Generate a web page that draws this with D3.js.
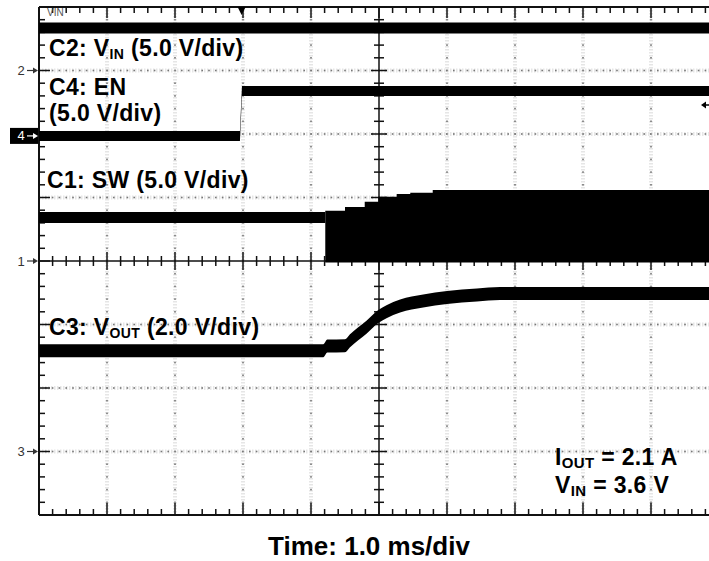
<!DOCTYPE html>
<html><head><meta charset="utf-8">
<script src="https://cdn.jsdelivr.net/npm/d3@7"></script>
<style>html,body{margin:0;padding:0;background:#fff;} svg{display:block;}</style>
</head><body>
<svg id="c" width="709" height="561"></svg>
<script>
// ---- Data (time in ms, 1.0 ms/div; values in volts) ----
const channelNames = ["C1", "C2", "C3", "C4"];
const channelOffsetDiv = [0, 3, -3, 1.97];      // ground marker position (div)
const channelVoltsPerDiv = [5, 5, 2, 5];
const channelMarkers = ["1", "2", "3", "4"];

const vinTime = [0, 10];
const vinVolts = [3.35, 3.35];

const enTime = [0, 2.955, 2.985, 10];
const enVolts = [0, 0, 3.53, 3.53];

const swIdleTime = [0, 4.21];
const swIdleVolts = [3.43, 3.43];

const swBurstTime = [4.21, 4.5, 4.79, 4.99, 5.26, 5.46, 5.79, 10];
const swBurstHigh = [3.96, 4.25, 4.67, 5.06, 5.28, 5.38, 5.59, 5.59];
const swBurstLowVolts = -0.12;

const voutTime = [0, 4.18, 4.24, 4.5, 4.57, 4.82, 4.99, 5.11, 5.31, 5.65, 6.0, 6.44, 6.78, 10];
const voutVolts = [3.17, 3.17, 3.32, 3.33, 3.48, 3.92, 4.25, 4.40, 4.58, 4.74, 4.85, 4.93, 4.98, 4.98];

const triggerTime = 2.98;
const timeLabel = "Time: 1.0 ms/div";

// ---- Scales ----
const svg = d3.select("#c");
const x = d3.scaleLinear().domain([0, 10]).range([39, 719]);
const y = d3.scaleLinear().domain([-4, 4]).range([515, 7]);
const yc = (ch, v) => y(channelOffsetDiv[ch] + v / channelVoltsPerDiv[ch]);
const FONT = "'Liberation Sans', Arial, Helvetica, sans-serif";

svg.append("rect").attr("width", 709).attr("height", 561).attr("fill", "#fff");

// ---- Grid (dotted) ----
const grid = svg.append("g");
const vLines = d3.range(1, 11).filter(d => d !== 5);
const hLines = d3.range(-3, 4).filter(d => d !== 0);
const minorY = d3.range(-4, 4.0001, 0.2);
const fineX = d3.range(0, 10.0001, 0.1);

vLines.forEach(t => {
  grid.append("line").attr("x1", x(t)).attr("x2", x(t)).attr("y1", y(4)).attr("y2", y(-4))
    .attr("stroke", "#e6e6e6").attr("stroke-width", 4).attr("stroke-dasharray", "1.5,1.5");
  grid.selectAll(null).data(minorY).enter().append("rect")
    .attr("x", x(t) - 0.8).attr("y", d => y(d) - 0.8).attr("width", 1.6).attr("height", 1.6)
    .attr("fill", "#777");
});
hLines.forEach(d => {
  grid.append("line").attr("x1", x(0)).attr("x2", x(10)).attr("y1", y(d)).attr("y2", y(d))
    .attr("stroke", "#e6e6e6").attr("stroke-width", 4).attr("stroke-dasharray", "1.5,1.5");
  grid.selectAll(null).data(fineX).enter().append("rect")
    .attr("x", t => x(t) - 0.8).attr("y", y(d) - 0.8).attr("width", 1.6).attr("height", 1.6)
    .attr("fill", "#777");
});

// ---- Borders and center axes with ticks ----
const ax = svg.append("g").attr("stroke", "#111").attr("stroke-width", 1.5);
const minorX = d3.range(0, 10.0001, 0.2);
const isMajor = v => Math.abs(v - Math.round(v)) < 1e-6;

// top border
ax.append("line").attr("x1", x(0)).attr("x2", x(10)).attr("y1", y(4)).attr("y2", y(4)).attr("stroke-width", 2);
ax.selectAll(null).data(minorX).enter().append("line")
  .attr("x1", d => x(d)).attr("x2", d => x(d)).attr("y1", y(4)).attr("y2", d => y(4) + (isMajor(d) ? 11 : 6));
// bottom border
ax.append("line").attr("x1", x(0)).attr("x2", x(10)).attr("y1", y(-4)).attr("y2", y(-4)).attr("stroke-width", 2);
ax.selectAll(null).data(minorX).enter().append("line")
  .attr("x1", d => x(d)).attr("x2", d => x(d)).attr("y1", y(-4)).attr("y2", d => y(-4) - (isMajor(d) ? 12 : 6));
// left border
ax.append("line").attr("x1", x(0)).attr("x2", x(0)).attr("y1", y(4)).attr("y2", y(-4)).attr("stroke-width", 2);
ax.selectAll(null).data(minorY).enter().append("line")
  .attr("x1", x(0)).attr("x2", d => x(0) + (isMajor(d) ? 11 : 6)).attr("y1", d => y(d)).attr("y2", d => y(d));
// center horizontal axis
ax.append("line").attr("x1", x(0)).attr("x2", x(10)).attr("y1", y(0)).attr("y2", y(0));
ax.selectAll(null).data(minorX).enter().append("line")
  .attr("x1", d => x(d)).attr("x2", d => x(d))
  .attr("y1", d => y(0) - (isMajor(d) ? 9 : 5)).attr("y2", d => y(0) + (isMajor(d) ? 9 : 5));
// center vertical axis
ax.append("line").attr("x1", x(5)).attr("x2", x(5)).attr("y1", y(4)).attr("y2", y(-4));
ax.selectAll(null).data(minorY).enter().append("line")
  .attr("x1", d => x(5) - (isMajor(d) ? 8 : 5)).attr("x2", d => x(5) + (isMajor(d) ? 8 : 5))
  .attr("y1", d => y(d)).attr("y2", d => y(d));

// ---- Traces (drawn as bands of constant pixel thickness) ----
const traces = svg.append("g");
function band(ch, times, volts, half, curve) {
  const pts = times.map((t, i) => [t, volts[i]]);
  const a = d3.area().x(d => x(d[0]))
    .y0(d => yc(ch, d[1]) + half).y1(d => yc(ch, d[1]) - half)
    .curve(curve || d3.curveLinear);
  traces.append("path").attr("d", a(pts)).attr("fill", "#000");
}
band(1, vinTime, vinVolts, 5.5);
band(3, enTime, enVolts, 5);
band(0, swIdleTime, swIdleVolts, 5.5);
{
  const pts = swBurstTime.map((t, i) => [t, swBurstHigh[i]]);
  const a = d3.area().x(d => x(d[0]))
    .y0(() => yc(0, swBurstLowVolts)).y1(d => yc(0, d[1]))
    .curve(d3.curveStepAfter);
  traces.append("path").attr("d", a(pts)).attr("fill", "#000");
}
band(2, voutTime, voutVolts, 6.5, d3.curveMonotoneX);

// ---- Channel ground markers ----
const mk = svg.append("g").attr("font-family", FONT).attr("font-size", 13);
channelMarkers.forEach((m, i) => {
  const yy = y(channelOffsetDiv[i]);
  const inv = channelNames[i] === "C4";
  const col = inv ? "#fff" : "#333";
  if (inv) mk.append("rect").attr("x", 10).attr("y", yy - 8).attr("width", 28).attr("height", 16).attr("fill", "#000");
  mk.append("text").attr("x", 21).attr("y", yy + 4.5).attr("text-anchor", "middle").attr("fill", col).text(m);
  mk.append("line").attr("x1", 27).attr("x2", 34).attr("y1", yy).attr("y2", yy).attr("stroke", col).attr("stroke-width", 1.2);
  mk.append("path").attr("d", `M33,${yy - 3}L38,${yy}L33,${yy + 3}Z`).attr("fill", col);
});

// trigger position marker (top) and trigger level marker (right)
svg.append("path").attr("d", `M${x(triggerTime) - 4},7L${x(triggerTime) + 4},7L${x(triggerTime)},15Z`).attr("fill", "#000");
svg.append("path").attr("d", `M701,105L706,101.5L706,108.5Z`).attr("fill", "#000");
svg.append("line").attr("x1", 705).attr("x2", 709).attr("y1", 105).attr("y2", 105).attr("stroke", "#000").attr("stroke-width", 1.5);

// small VIN label at top-left
svg.append("text").attr("x", 47).attr("y", 16).attr("font-family", FONT).attr("font-size", 10)
  .attr("fill", "#555").text("VIN");

// ---- Labels ----
const lab = svg.append("g").attr("font-family", FONT).attr("font-weight", "bold").attr("fill", "#000");
function label(xp, yp, size, parts) {
  const t = lab.append("text").attr("x", xp).attr("y", yp).attr("font-size", size)
    .attr("letter-spacing", 0.35);
  parts.forEach(p => {
    const s = t.append("tspan").text(p.t);
    if (p.sub) s.attr("font-size", p.sub).attr("dy", 3);
    if (p.back) s.attr("dy", -3);
  });
}
label(49, 56, 23, [{t: "C2: V"}, {t: "IN", sub: 14}, {t: " (5.0 V/div)", back: true}]);
label(49, 95, 23, [{t: "C4: EN"}]);
label(49, 121, 23, [{t: "(5.0 V/div)"}]);
label(47, 188, 23, [{t: "C1: SW (5.0 V/div)"}]);
label(49, 335, 23, [{t: "C3: V"}, {t: "OUT", sub: 14}, {t: " (2.0 V/div)", back: true}]);
label(555, 465, 23, [{t: "I"}, {t: "OUT", sub: 15}, {t: " = 2.1 A", back: true}]);
label(555, 493, 23, [{t: "V"}, {t: "IN", sub: 15}, {t: " = 3.6 V", back: true}]);

lab.append("text").attr("x", 369).attr("y", 555).attr("text-anchor", "middle")
  .attr("font-size", 26).text(timeLabel);
</script>
</body></html>
